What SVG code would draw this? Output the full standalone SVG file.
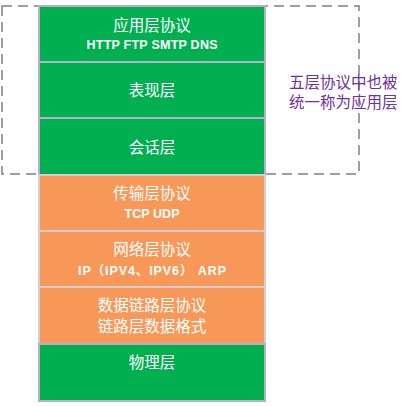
<svg xmlns="http://www.w3.org/2000/svg" width="409" height="407" viewBox="0 0 409 407">
<style>
.box{stroke:#b4b0c8;stroke-width:2}
.g{fill:#00b050}
.o{fill:#f79858}
.t{font-family:"Noto Sans CJK SC","Noto Sans",sans-serif;font-size:15.5px;fill:#fff;text-anchor:middle}
.s{font-family:"Liberation Sans","Noto Sans CJK SC",sans-serif;font-size:12.5px;font-weight:bold;fill:#fff;text-anchor:middle}
.p{font-family:"Noto Sans CJK SC",sans-serif;font-size:15.5px;fill:#7030a0}
</style>
<rect width="409" height="407" fill="#fff"/>
<g id="dash"><rect x="2" y="6" width="357" height="168" fill="none" stroke="#808080" stroke-width="1.5" stroke-dasharray="10,6"/></g>
<g id="connectors"></g>
<g id="app"><rect class="box g" x="39" y="6" width="226" height="56"/><text class="t" x="152" y="31">应用层协议</text><text class="s" x="152" y="49" textLength="131" lengthAdjust="spacing">HTTP FTP SMTP DNS</text></g>
<g id="pres"><rect class="box g" x="39" y="62" width="226" height="56"/><text class="t" x="152" y="96">表现层</text></g>
<g id="sess"><rect class="box g" x="39" y="118" width="226" height="57"/><text class="t" x="152" y="153">会话层</text></g>
<g id="trans"><rect class="box o" x="39" y="175" width="226" height="56"/><rect x="39" y="175" width="226" height="56" fill="none" stroke="#f3e8e0" stroke-width="1"/><text class="t" x="152" y="199">传输层协议</text><text class="s" x="152" y="218" textLength="55" lengthAdjust="spacing">TCP UDP</text></g>
<g id="net"><rect class="box o" x="39" y="231" width="226" height="56"/><rect x="39" y="231" width="226" height="56" fill="none" stroke="#f3e8e0" stroke-width="1"/><text class="t" x="152" y="255">网络层协议</text><text class="s" x="152" y="275" textLength="148" lengthAdjust="spacing">IP（IPV4、IPV6） ARP</text></g>
<g id="link"><rect class="box o" x="39" y="287" width="226" height="57"/><rect x="39" y="287" width="226" height="57" fill="none" stroke="#f3e8e0" stroke-width="1"/><text class="t" x="152" y="311">数据链路层协议</text><text class="t" x="152" y="332">链路层数据格式</text></g>
<g id="phys"><rect class="box g" x="39" y="344" width="226" height="57"/><text class="t" x="152" y="368">物理层</text></g>
<g id="note"><text class="p" x="289" y="88">五层协议中也被<tspan x="289" y="108">统一称为应用层</tspan></text></g>
</svg>
